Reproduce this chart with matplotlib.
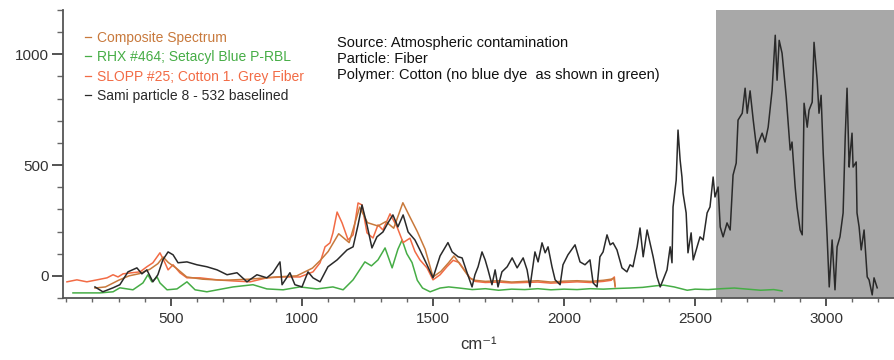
import matplotlib
matplotlib.use('Agg')
import matplotlib.pyplot as plt
from matplotlib.lines import Line2D
from matplotlib.ticker import MultipleLocator

plt.rcParams['font.family'] = ['Liberation Sans', 'DejaVu Sans']

# Sami particle 8 - 532 baselined (black)
black_x = [210, 240, 279, 305, 336, 370, 389, 408, 431, 450, 469, 489, 508, 527, 561, 599, 637, 676,
           714, 752, 790, 828, 866, 889, 916, 924, 954, 973, 1000, 1023, 1042, 1069, 1099, 1134, 1172,
           1195, 1214, 1229, 1248, 1267, 1286, 1309, 1328, 1347, 1366, 1386, 1405, 1431, 1450, 1477,
           1500, 1527, 1557, 1573, 1596, 1611, 1630, 1649, 1660, 1672, 1687, 1699, 1710, 1725, 1737,
           1748, 1763, 1783, 1802, 1821, 1844, 1859, 1870, 1889, 1901, 1916, 1928, 1939, 1954, 1966,
           1985, 1996, 2015, 2042, 2061, 2080, 2099, 2111, 2126, 2137, 2149, 2164, 2176, 2187, 2202,
           2221, 2240, 2252, 2263, 2279, 2290, 2302, 2317, 2328, 2340, 2355, 2367, 2378, 2393, 2405,
           2412, 2416, 2428, 2435, 2443, 2450, 2454, 2466, 2473, 2485, 2493, 2508, 2519, 2531, 2546,
           2557, 2569, 2576, 2588, 2596, 2607, 2622, 2634, 2645, 2657, 2664, 2680, 2691, 2699, 2710,
           2722, 2737, 2741, 2756, 2767, 2779, 2794, 2806, 2813, 2821, 2832, 2848, 2863, 2870, 2882,
           2889, 2901, 2909, 2916, 2928, 2935, 2947, 2954, 2966, 2973, 2981, 2989, 3004, 3012, 3023,
           3034, 3042, 3053, 3065, 3073, 3080, 3088, 3092, 3099, 3103, 3115, 3118, 3126, 3134, 3145,
           3157, 3164, 3176, 3183, 3195]
black_y = [-50, -72, -54, -40, 18, 36, 9, 27, -27, 5, 72, 108, 95, 59, 63, 50, 41, 27,
           5, 14, -27, 5, -9, 14, 63, -40, 14, -40, -50, 18, -9, -27, 41, 72, 117,
           131, 230, 320, 230, 126, 176, 198, 239, 275, 221, 275, 198, 162, 117, 50,
           -9, 90, 150, 108, 86, 81, 14, -50, 5, 41, 108, 72, 27, -40, 27,
           -50, 18, 41, 81, 36, 81, 27, -50, 108, 63, 149, 104, 131, 41, -18,
           -40, 50, 95, 140, 63, 50, 72, -32, -50, 86, 108, 185, 140, 149, 117,
           36, 18, 50, 41, 131, 216, 86, 207, 149, 86, -5, -50, -18, 27, 131,
           59, 311, 432, 658, 523, 446, 374, 284, 104, 194, 72, 131, 176, 162, 284,
           311, 446, 356, 401, 221, 176, 239, 207, 455, 509, 703, 734, 847, 734, 835,
           703, 554, 599, 644, 604, 671, 838, 1086, 883, 1063, 1005, 806, 568, 604, 401,
           311, 207, 185, 779, 671, 748, 784, 1054, 883, 734, 815, 554, 176, -50, 162,
           -63, 131, 176, 284, 626, 847, 491, 554, 644, 491, 514, 284, 221, 117, 207,
           -5, -18, -86, -9, -54]

# SLOPP #25; Cotton 1. Grey Fiber (red-orange)
red_x = [103, 141, 179, 218, 256, 279, 298, 317, 351, 382, 408, 431, 458, 477, 489, 508, 534, 561,
         611, 676, 737, 802, 866, 928, 992, 1042, 1069, 1088, 1107, 1118, 1134, 1153, 1176, 1195,
         1214, 1229, 1248, 1271, 1290, 1309, 1336, 1363, 1386, 1412, 1431, 1450, 1477, 1500, 1527,
         1553, 1577, 1600, 1641, 1660, 1700, 1750, 1800, 1850, 1900, 1950, 2000, 2050, 2100, 2150,
         2180, 2192, 2195]
red_y = [-27, -18, -27, -18, -9, 5, -5, 9, 14, 18, 41, 59, 104, 59, 27, 50, 14, -9,
         -9, -18, -23, -27, -9, -5, -5, 18, 59, 131, 149, 194, 288, 239, 162, 185,
         329, 320, 194, 171, 230, 207, 280, 220, 150, 170, 110, 72, 36, -18, 5,
         41, 70, 60, -9, -25, -30, -28, -32, -30, -28, -33, -30, -27, -30, -25,
         -20, -5, -50]

# Composite Spectrum (brown-orange)
comp_x = [210, 250, 300, 340, 380, 420, 450, 470, 490, 520, 560, 620, 700, 800, 900, 980, 1040,
          1070, 1100, 1140, 1180, 1220, 1250, 1290, 1320, 1350, 1385, 1410, 1440, 1470, 1500,
          1530, 1560, 1580, 1610, 1640, 1660, 1700, 1750, 1800, 1850, 1900, 1950, 2000, 2050,
          2100, 2150, 2180, 2190, 2195]
comp_y = [-55, -50, -20, 0, 10, 30, 55, 85, 60, 35, -5, -15, -20, -15, -5, 0, 35,
          70, 110, 190, 150, 310, 240, 225, 245, 215, 330, 270, 200, 120, -5,
          20, 60, 90, 40, -10, -20, -25, -22, -28, -25, -22, -28, -24, -22,
          -25, -20, -15, -10, -45]

# RHX #464; Setacyl Blue P-RBL (green)
green_x = [126, 229, 279, 305, 355, 393, 412, 427, 447, 458, 485, 523, 561, 592, 637, 737, 813,
           866, 928, 992, 1057, 1118, 1157, 1195, 1240, 1265, 1290, 1317, 1344, 1366, 1382, 1400,
           1420, 1440, 1460, 1489, 1527, 1560, 1600, 1650, 1700, 1750, 1800, 1850, 1900, 1950,
           2000, 2050, 2100, 2150, 2200, 2250, 2300, 2350, 2380, 2420, 2470, 2500, 2550, 2600,
           2650, 2700, 2750, 2800, 2832]
green_y = [-77, -77, -72, -54, -63, -32, 5, -27, -5, -32, -63, -59, -27, -63, -72, -50, -40,
           -59, -63, -50, -59, -50, -63, -18, 63, 45, 72, 126, 36, 120, 162, 100,
           60, -20, -55, -72, -55, -50, -55, -62, -58, -65, -60, -62, -58, -63,
           -60, -62, -58, -60, -57, -55, -52, -45, -42, -50, -65, -60, -62, -58,
           -55, -60, -65, -62, -68]

labels = ['Composite Spectrum', 'RHX #464; Setacyl Blue P-RBL',
          'SLOPP #25; Cotton 1. Grey Fiber', 'Sami particle 8 - 532 baselined']
colors = ['#c8793c', '#46ad46', '#f26b45', '#2a2a2a']

fig = plt.figure(figsize=(8.95, 3.6), dpi=100)
ax = fig.add_axes([63 / 895, 62 / 360, 1 - 63 / 895, 288 / 360])

# grey shaded region
ax.axvspan(2580, 3300, color='#a8a8a8', lw=0, zorder=0)

ax.plot(green_x, green_y, color=colors[1], lw=1.1)
ax.plot(red_x, red_y, color=colors[2], lw=1.1)
ax.plot(comp_x, comp_y, color=colors[0], lw=1.1)
ax.plot(black_x, black_y, color=colors[3], lw=1.1)

ax.set_xlim(88, 3263)
ax.set_ylim(-100, 1200)
ax.xaxis.set_major_locator(MultipleLocator(500))
ax.xaxis.set_minor_locator(MultipleLocator(100))
ax.yaxis.set_major_locator(MultipleLocator(500))
ax.yaxis.set_minor_locator(MultipleLocator(100))

for s in ['top', 'right']:
    ax.spines[s].set_visible(False)
for s in ['left', 'bottom']:
    ax.spines[s].set_color('#555555')
    ax.spines[s].set_linewidth(1.3)

ax.tick_params(axis='y', which='major', length=8, width=1.3, color='#444444',
               labelsize=11, labelcolor='#333333', pad=2)
ax.tick_params(axis='y', which='minor', length=4, width=1, color='#666666')
ax.tick_params(axis='x', which='major', length=6, width=1.3, color='#444444',
               labelsize=11, labelcolor='#333333', pad=4)
ax.tick_params(axis='x', which='minor', length=3, width=1, color='#666666')

ax.set_xlabel('cm⁻¹', fontsize=12, color='#333333', labelpad=8)

handles = [Line2D([], [], color=c, lw=0.9) for c in colors]
ax.legend(handles, labels, loc='upper left', bbox_to_anchor=(78 / 895, 1 - 24 / 360),
          bbox_transform=fig.transFigure, frameon=False, fontsize=10, handlelength=0.4,
          handletextpad=0.5, labelspacing=0.38, borderpad=0, labelcolor=colors)

fig.text(337 / 895, 1 - 59 / 360,
         'Source: Atmospheric contamination\nParticle: Fiber\n'
         'Polymer: Cotton (no blue dye  as shown in green)',
         fontsize=10.5, color='#111111', va='center', ha='left', linespacing=1.15)

fig.savefig('out.png', dpi=100)
